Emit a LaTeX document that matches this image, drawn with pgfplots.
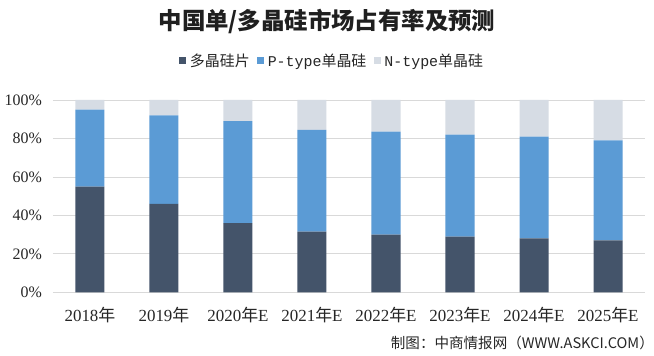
\documentclass[border=0pt]{standalone}
\usepackage{fontspec}
\usepackage{pgfplots}
\pgfplotsset{compat=1.18}
\setmainfont{Noto Sans CJK SC}
\newfontfamily\numfont{Liberation Serif}
\newfontfamily\monofont{Liberation Mono}
\definecolor{cDark}{HTML}{44546A}
\definecolor{cBlue}{HTML}{5B9BD5}
\definecolor{cLight}{HTML}{D6DCE4}
\definecolor{cGrid}{HTML}{D9D9D9}
\begin{document}
\begin{tikzpicture}
\fill[white] (-53bp,-63.7bp) rectangle (601bp,292.3bp);
\useasboundingbox (-53bp,-63.7bp) rectangle (601bp,292.3bp);
\begin{axis}[
  at={(0,0)}, anchor=south west,
  scale only axis, width=592bp, height=192.3bp,
  ybar stacked, bar width=29bp,
  xmin=-0.5, xmax=7.5, ymin=0, ymax=100,
  enlargelimits=false,
  axis line style={draw=none},
  major tick length=0pt,
  ymajorgrids, major grid style={cGrid, line width=0.8bp},
  ytick={0,20,40,60,80,100},
  yticklabels={{\numfont 0\%},{\numfont 20\%},{\numfont 40\%},{\numfont 60\%},{\numfont 80\%},{\numfont 100\%}},
  yticklabel style={font=\fontsize{16}{16}\selectfont, inner sep=0pt, anchor=east, xshift=-11bp, text=black!85},
  xtick={0,1,2,3,4,5,6,7},
  xticklabels={{\numfont 2018}年,{\numfont 2019}年,{\numfont 2020}年{\numfont E},{\numfont 2021}年{\numfont E},{\numfont 2022}年{\numfont E},{\numfont 2023}年{\numfont E},{\numfont 2024}年{\numfont E},{\numfont 2025}年{\numfont E}},
  xticklabel style={font=\fontsize{17}{17}\selectfont, inner sep=0pt, anchor=north, yshift=-15bp, text=black!85},
  legend columns=3,
  legend style={draw=none, fill=none, at={(0.473,1.205)}, anchor=center,
    font=\fontsize{15}{15}\selectfont, text=black!85,
    /tikz/every even column/.append style={column sep=4bp},
    nodes={inner xsep=3.5bp, inner ysep=0pt}},
  legend image code/.code={\fill (0bp,-3.5bp) rectangle (7bp,3.5bp);},
]
\addplot[fill=cDark, draw=none] coordinates {(0,55) (1,46) (2,36) (3,31.5) (4,30) (5,29) (6,28) (7,27)};
\addplot[fill=cBlue, draw=none] coordinates {(0,40) (1,46) (2,53) (3,53) (4,53.5) (5,53) (6,53) (7,52)};
\addplot[fill=cLight, draw=none] coordinates {(0,5) (1,8) (2,11) (3,15.5) (4,16.5) (5,18) (6,19) (7,21)};
\legend{多晶硅片,{\monofont P-type}单晶硅,{\monofont N-type}单晶硅}
\end{axis}
\node[font=\fontsize{23.5}{23.5}\selectfont\bfseries, text=black!88] at (274bp,270.5bp) {中国单/多晶硅市场占有率及预测};
\node[font=\fontsize{14.6}{14.6}\selectfont, text=black!85, anchor=east, inner sep=0pt] at (601bp,-50.7bp) {制图：中商情报网（WWW.ASKCI.COM）};
\end{tikzpicture}
\end{document}
